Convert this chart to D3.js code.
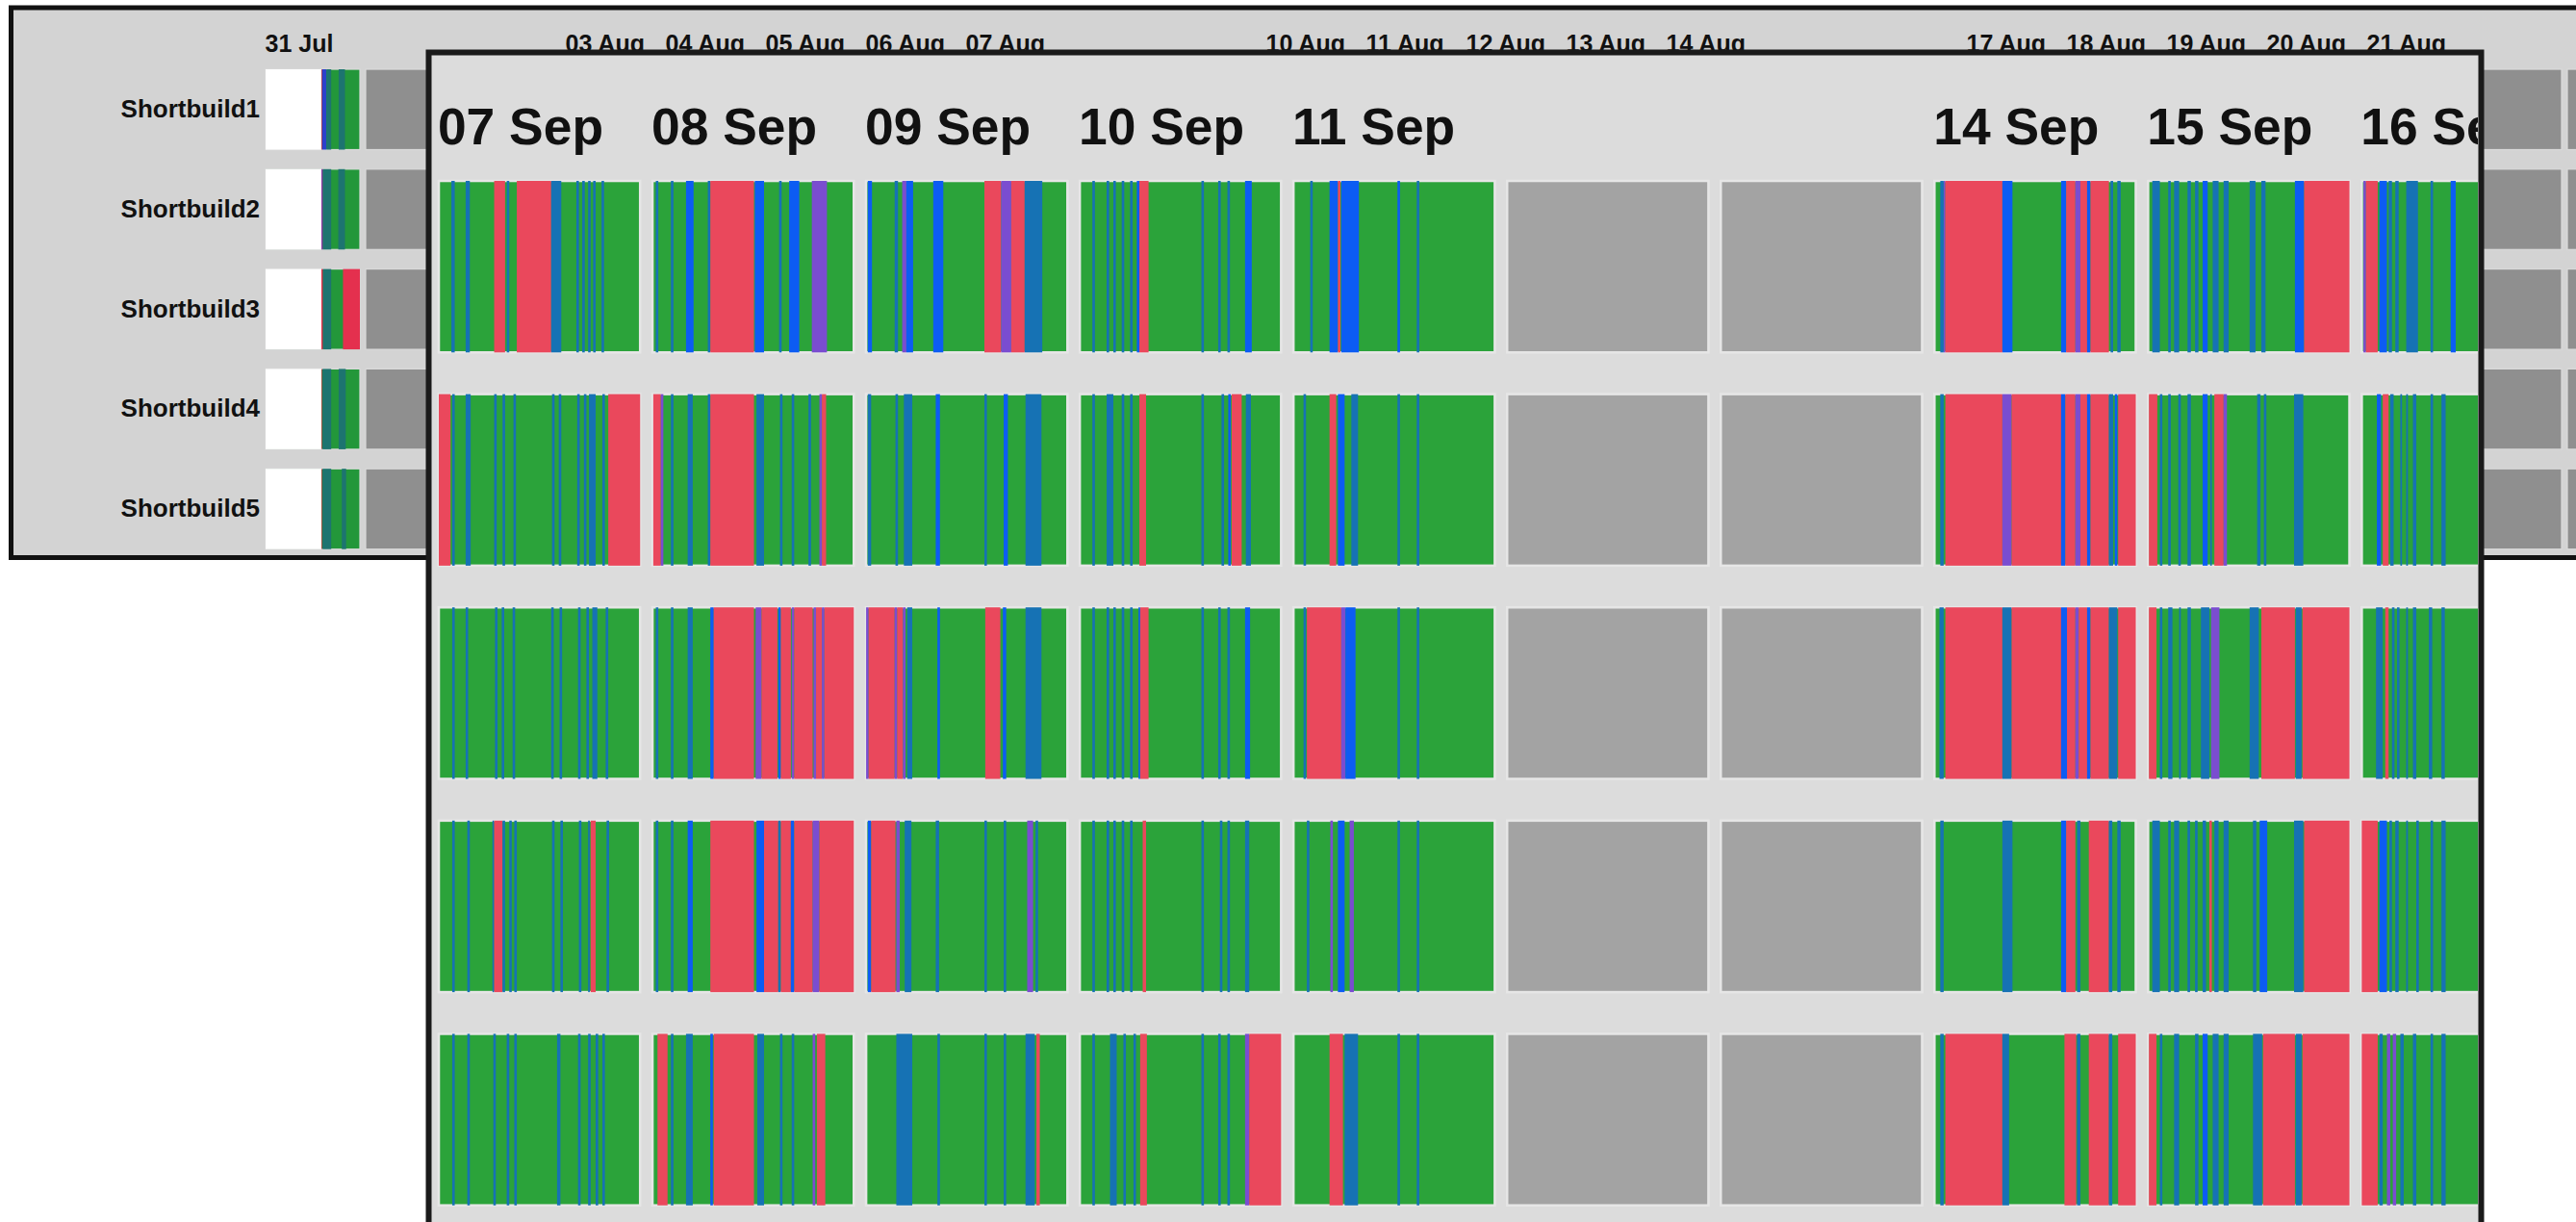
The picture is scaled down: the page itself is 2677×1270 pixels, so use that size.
<!DOCTYPE html>
<html>
<head>
<meta charset="utf-8">
<script src="https://d3js.org/d3.v7.min.js"></script>
<style>
  body { margin: 0; background: #fff; }
  svg { display: block; }
</style>
</head>
<body>
<div id="chart"></div>
<script>
// rows of the build board
var rows = ["Shortbuild1", "Shortbuild2", "Shortbuild3", "Shortbuild4", "Shortbuild5"];

// days in the overview strip (back) and in the zoomed inset (front)
var overviewDays = ["2020-07-31", "2020-08-01", "2020-08-02", "2020-08-03", "2020-08-04", "2020-08-05",
  "2020-08-06", "2020-08-07", "2020-08-08", "2020-08-09", "2020-08-10", "2020-08-11", "2020-08-12",
  "2020-08-13", "2020-08-14", "2020-08-15", "2020-08-16", "2020-08-17", "2020-08-18", "2020-08-19",
  "2020-08-20", "2020-08-21", "2020-08-22", "2020-08-23"];
var insetDays = ["2020-09-07", "2020-09-08", "2020-09-09", "2020-09-10", "2020-09-11",
  "2020-09-12", "2020-09-13", "2020-09-14", "2020-09-15", "2020-09-16"];

// build runs inside one day: [from hour, to hour, status]; the rest of a day with builds is a pass.
// W = not tracked yet, R = failed, B = running, S = unstable, P = aborted; null = no builds
var jul31 = [
  [[0, 14.2, "W"], [14.2, 14.4, "R"], [14.4, 15.5, "B"], [15.5, 16.7, "S"], [18.6, 20.2, "S"]],
  [[0, 14.2, "W"], [14.2, 14.6, "P"], [14.6, 16.7, "S"], [18.5, 20.2, "S"]],
  [[0, 14.2, "W"], [14.2, 14.6, "R"], [14.6, 16.7, "S"], [19.7, 24, "R"]],
  [[0, 14.2, "W"], [14.2, 14.35, "R"], [14.5, 16.7, "S"], [18.6, 20.4, "S"]],
  [[0, 14.2, "W"], [14.2, 14.35, "R"], [14.5, 16.7, "S"], [19.4, 20.5, "S"]]
];

var sepShortbuild1 = [
  [[1.5, 1.9, "S"], [3.2, 3.7, "S"], [6.6, 7.9, "R"], [8.1, 8.4, "S"], [9.3, 13.4, "R"], [13.4, 14.6, "S"],
   [16.4, 16.7, "S"], [17.1, 17.4, "S"], [17.8, 18.1, "S"], [18.4, 18.7, "S"], [19.4, 19.7, "S"]],
  [[0.4, 0.7, "S"], [2.2, 2.5, "S"], [4.0, 4.9, "B"], [6.6, 6.9, "S"], [6.9, 12.1, "R"], [12.2, 13.3, "B"],
   [15.1, 15.4, "S"], [16.3, 17.5, "B"], [19.0, 20.8, "P"]],
  [[0.2, 0.7, "B"], [3.4, 3.8, "S"], [4.3, 4.8, "P"], [4.8, 5.6, "B"], [8.0, 9.2, "B"], [14.1, 16.1, "R"],
   [16.1, 17.3, "P"], [17.3, 18.9, "R"], [18.9, 21.0, "S"]],
  [[1.5, 1.8, "S"], [3.2, 3.5, "S"], [4.0, 4.3, "S"], [5.0, 5.3, "S"], [6.0, 6.3, "S"], [6.8, 7.1, "B"],
   [7.1, 8.2, "R"], [14.5, 14.8, "S"], [16.5, 16.8, "S"], [17.6, 17.9, "S"], [19.7, 20.5, "B"]],
  [[2.0, 2.3, "S"], [4.3, 5.3, "B"], [5.3, 5.6, "R"], [5.7, 7.8, "B"], [12.4, 12.7, "B"], [14.7, 15.0, "S"]],
  null,
  null,
  [[0.7, 1.1, "S"], [1.1, 1.3, "P"], [1.3, 8.1, "R"], [8.1, 9.3, "B"], [15.1, 15.7, "B"], [15.7, 16.8, "R"],
   [16.8, 17.4, "P"], [17.4, 18.2, "R"], [18.2, 18.6, "B"], [18.6, 20.8, "R"], [21.0, 21.3, "S"], [21.8, 22.2, "S"]],
  [[0.5, 1.4, "S"], [2.4, 2.7, "S"], [3.1, 3.7, "S"], [4.7, 5.1, "S"], [5.6, 6.0, "S"], [6.5, 7.1, "B"],
   [7.7, 8.4, "S"], [9.0, 9.6, "S"], [12.1, 12.8, "S"], [13.5, 14.0, "S"], [17.5, 18.6, "B"], [18.6, 24, "R"]],
  [[0.2, 0.5, "P"], [0.5, 1.9, "R"], [2.1, 3.0, "B"], [3.2, 3.6, "S"], [4.0, 4.4, "S"], [5.3, 6.7, "S"],
   [8.2, 8.5, "S"], [10.6, 11.2, "B"]]
];

var sepShortbuild2 = [
  [[0, 1.4, "R"], [1.6, 1.9, "S"], [3.2, 3.8, "S"], [6.6, 6.9, "S"], [7.6, 7.9, "S"], [8.9, 9.2, "S"],
   [13.5, 13.8, "S"], [14.3, 14.6, "S"], [16.5, 16.8, "S"], [17.3, 17.6, "S"], [17.9, 18.7, "S"],
   [19.5, 19.8, "S"], [20.2, 24, "R"]],
  [[0.1, 1.0, "R"], [1.0, 1.3, "P"], [2.2, 2.5, "S"], [4.2, 4.8, "S"], [6.6, 6.9, "S"], [6.9, 12.1, "R"],
   [12.4, 13.3, "S"], [15.2, 15.5, "S"], [16.6, 16.9, "S"], [18.6, 18.9, "S"], [19.9, 20.2, "P"], [20.2, 20.7, "R"]],
  [[0.2, 0.6, "S"], [3.5, 3.8, "S"], [4.5, 5.5, "S"], [8.3, 8.8, "B"], [14.1, 14.4, "S"], [16.4, 16.9, "B"],
   [19.0, 20.9, "S"]],
  [[1.5, 1.8, "S"], [3.2, 4.0, "S"], [5.0, 5.3, "S"], [6.0, 6.3, "S"], [7.1, 7.9, "R"], [14.5, 14.8, "S"],
   [16.9, 17.2, "S"], [17.7, 18.0, "B"], [18.1, 19.3, "R"], [19.8, 20.4, "S"]],
  [[1.2, 1.5, "S"], [4.3, 5.1, "R"], [5.3, 6.1, "B"], [6.9, 7.7, "S"], [12.4, 12.7, "S"], [14.7, 15.0, "S"]],
  null,
  null,
  [[0.7, 1.1, "S"], [1.3, 8.1, "R"], [8.1, 9.2, "P"], [9.2, 15.1, "R"], [15.1, 15.6, "B"], [15.6, 16.8, "R"],
   [16.8, 17.4, "P"], [17.4, 18.2, "R"], [18.2, 18.6, "B"], [18.6, 20.8, "R"], [20.8, 21.3, "S"],
   [21.5, 21.8, "B"], [21.9, 24, "R"]],
  [[0.1, 1.1, "R"], [1.4, 1.7, "S"], [2.4, 2.7, "S"], [3.6, 3.9, "S"], [4.7, 5.1, "S"], [6.5, 7.1, "B"],
   [7.4, 7.6, "S"], [7.9, 9.0, "R"], [9.0, 9.4, "P"], [13.0, 13.4, "S"], [13.8, 14.1, "S"], [17.4, 18.5, "S"]],
  [[1.8, 2.3, "B"], [2.5, 3.2, "R"], [3.4, 3.8, "S"], [4.6, 4.8, "S"], [5.3, 5.5, "S"], [6.1, 6.5, "S"],
   [8.2, 8.5, "S"], [9.5, 10.0, "S"]]
];

var sepShortbuild3 = [
  [[1.6, 1.9, "S"], [3.2, 3.5, "S"], [6.7, 7.0, "S"], [7.5, 7.8, "S"], [8.8, 9.1, "S"], [13.4, 13.7, "S"],
   [14.4, 14.7, "S"], [16.6, 16.9, "S"], [17.6, 17.9, "S"], [18.3, 18.9, "S"], [19.9, 20.2, "S"]],
  [[0.4, 0.7, "S"], [2.2, 2.5, "S"], [4.2, 4.8, "S"], [6.9, 7.3, "B"], [7.3, 12.1, "R"], [12.3, 13.0, "P"],
   [13.0, 14.9, "R"], [15.0, 15.3, "B"], [15.3, 16.5, "R"], [16.6, 16.9, "P"], [16.9, 19.1, "R"],
   [19.2, 19.5, "P"], [19.5, 20.2, "R"], [20.2, 20.5, "P"], [20.5, 24, "R"]],
  [[0, 0.3, "P"], [0.3, 3.4, "R"], [3.4, 3.7, "P"], [3.7, 4.4, "R"], [4.4, 4.7, "P"], [4.9, 5.5, "S"],
   [8.5, 8.8, "B"], [14.2, 16.0, "R"], [16.3, 16.7, "B"], [19.0, 20.9, "S"]],
  [[1.5, 1.8, "S"], [3.2, 3.5, "S"], [4.0, 4.3, "S"], [5.0, 5.3, "S"], [6.0, 6.3, "S"], [7.0, 7.2, "B"],
   [7.2, 8.2, "R"], [14.5, 14.8, "S"], [16.5, 16.8, "S"], [17.6, 17.9, "S"], [19.7, 20.3, "B"]],
  [[1.2, 1.5, "S"], [1.6, 5.7, "R"], [5.7, 6.2, "P"], [6.2, 7.4, "B"], [12.4, 12.7, "S"], [14.7, 15.0, "S"]],
  null,
  null,
  [[0.6, 1.1, "S"], [1.3, 8.1, "R"], [8.1, 9.2, "S"], [9.2, 15.1, "R"], [15.1, 15.8, "B"], [15.8, 16.8, "R"],
   [16.8, 17.2, "P"], [17.2, 18.2, "R"], [18.2, 18.6, "B"], [18.6, 20.8, "R"], [20.8, 21.8, "S"], [21.9, 24, "R"]],
  [[0.1, 1.0, "R"], [1.4, 1.7, "S"], [2.4, 2.9, "S"], [3.7, 3.9, "S"], [4.7, 5.1, "S"], [6.3, 7.3, "S"],
   [7.5, 8.5, "P"], [12.1, 13.2, "S"], [13.5, 17.5, "R"], [17.6, 18.3, "S"], [18.4, 24, "R"]],
  [[1.7, 2.5, "S"], [2.8, 3.2, "R"], [3.6, 3.9, "S"], [4.2, 4.5, "S"], [5.3, 5.5, "S"], [6.1, 6.5, "S"],
   [8.0, 8.4, "S"], [9.5, 9.9, "S"]]
];

var sepShortbuild4 = [
  [[1.6, 1.9, "S"], [3.4, 3.7, "S"], [6.4, 6.6, "S"], [6.6, 7.6, "R"], [7.6, 7.9, "S"], [8.4, 8.7, "S"],
   [9.0, 9.3, "S"], [13.5, 13.8, "S"], [14.5, 14.8, "S"], [16.7, 17.0, "S"], [17.8, 18.0, "S"],
   [18.1, 18.7, "R"], [20.0, 20.3, "S"]],
  [[0.4, 0.7, "S"], [2.2, 2.5, "S"], [4.2, 4.8, "B"], [6.9, 12.1, "R"], [12.4, 13.3, "B"], [13.3, 15.0, "R"],
   [15.0, 15.3, "S"], [15.3, 16.5, "R"], [16.5, 16.9, "B"], [16.9, 19.1, "R"], [19.1, 19.9, "P"], [19.9, 24, "R"]],
  [[0.2, 0.6, "B"], [0.6, 3.5, "R"], [3.6, 4.0, "P"], [4.6, 5.4, "S"], [8.3, 8.7, "S"], [14.1, 14.4, "S"],
   [16.4, 16.7, "S"], [19.2, 19.9, "P"], [20.2, 20.5, "S"]],
  [[1.5, 1.8, "S"], [3.2, 3.5, "S"], [4.0, 4.3, "S"], [5.0, 5.3, "S"], [6.0, 6.3, "S"], [7.5, 7.9, "R"],
   [14.5, 14.8, "S"], [16.7, 17.0, "S"], [17.6, 17.9, "S"], [19.7, 20.2, "S"]],
  [[1.6, 1.9, "S"], [4.4, 4.7, "P"], [5.3, 6.1, "B"], [6.7, 7.2, "P"], [12.4, 12.7, "S"], [14.7, 15.0, "S"]],
  null,
  null,
  [[0.7, 1.1, "S"], [8.1, 9.3, "S"], [15.1, 15.7, "B"], [15.7, 16.8, "R"], [17.0, 17.4, "S"], [18.4, 20.8, "R"],
   [20.8, 21.2, "S"], [21.8, 22.2, "S"]],
  [[0.5, 1.4, "S"], [2.4, 2.7, "S"], [3.1, 3.7, "S"], [4.7, 5.0, "S"], [5.6, 5.9, "S"], [6.5, 6.9, "S"],
   [7.3, 7.6, "R"], [7.9, 8.4, "S"], [9.0, 9.6, "S"], [12.5, 12.9, "S"], [13.3, 14.2, "B"], [17.4, 18.5, "S"],
   [18.6, 24, "R"]],
  [[0, 1.9, "R"], [2.1, 3.0, "B"], [3.3, 3.6, "S"], [4.0, 4.4, "S"], [5.3, 5.5, "S"], [6.5, 6.8, "S"],
   [8.2, 8.5, "S"], [9.5, 10.0, "S"]]
];

var sepShortbuild5 = [
  [[1.6, 1.9, "S"], [3.4, 3.7, "S"], [6.5, 6.8, "S"], [8.1, 8.4, "S"], [9.0, 9.3, "S"], [14.1, 14.5, "S"],
   [16.6, 16.9, "S"], [17.8, 18.1, "S"], [18.7, 19.0, "S"], [19.5, 19.8, "S"]],
  [[0.6, 1.8, "R"], [2.2, 2.5, "S"], [4.0, 4.8, "S"], [6.9, 7.2, "B"], [7.3, 12.1, "R"], [12.5, 13.3, "S"],
   [15.2, 15.5, "S"], [16.6, 16.9, "S"], [19.1, 19.4, "P"], [19.6, 20.6, "R"]],
  [[3.6, 5.5, "S"], [8.5, 8.8, "S"], [14.1, 14.4, "S"], [16.4, 16.7, "S"], [19.0, 20.1, "S"], [20.3, 20.7, "R"]],
  [[1.5, 1.8, "S"], [3.6, 4.4, "S"], [5.2, 5.5, "S"], [6.4, 6.7, "S"], [7.2, 8.0, "R"], [14.5, 14.8, "S"],
   [16.5, 16.8, "S"], [17.6, 17.9, "S"], [19.7, 20.2, "P"], [20.2, 24, "R"]],
  [[4.3, 5.9, "R"], [6.1, 7.7, "S"], [12.4, 12.7, "S"], [14.7, 15.0, "S"]],
  null,
  null,
  [[0.7, 1.1, "S"], [1.3, 8.1, "R"], [8.1, 8.9, "S"], [15.5, 16.9, "R"], [17.0, 17.4, "S"], [18.4, 20.8, "R"],
   [20.8, 21.2, "S"], [21.9, 24, "R"]],
  [[0.1, 1.0, "R"], [1.4, 1.7, "S"], [3.1, 3.7, "S"], [5.6, 6.0, "S"], [6.5, 7.1, "B"], [7.7, 8.4, "S"],
   [9.0, 9.6, "S"], [12.5, 13.6, "S"], [13.7, 17.5, "R"], [17.6, 18.3, "S"], [18.4, 24, "R"]],
  [[0, 1.9, "R"], [2.1, 2.5, "S"], [3.0, 3.4, "P"], [3.7, 4.1, "P"], [4.6, 5.0, "S"], [6.1, 6.5, "S"],
   [8.2, 8.5, "S"], [9.5, 10.0, "S"]]
];

(function(){

  var W = 2677, H = 1270;
  // board geometry in overview pixels; the inset is the same board blown up
  var dayStep = 104, cellW = 98, rowStep = 103.8, cellH = 83.5;
  var zoom = 2.135;

  var overviewPal = {G: "#23973a", R: "#e4304e", B: "#2b41cc", S: "#1d7470", P: "#8b3aa6", W: "#ffffff",
                     none: "#8f8f8f", halo: "#dadada", text: "#111"};
  var insetPal = {G: "#2ba33a", R: "#ea485c", B: "#0c5cf3", S: "#1672b4", P: "#7a4dd0", W: "#ffffff",
                  none: "#a3a3a3", halo: "#e6e6e6", text: "#111"};

  var svg = d3.select("#chart").append("svg")
      .attr("width", W).attr("height", H);

  var defs = svg.append("defs");
  defs.append("clipPath").attr("id", "insetClip")
    .append("rect").attr("x", 449).attr("y", 57.5).attr("width", 2126).attr("height", H);

  function drawBoard(g, days, runs, pal, showRowNames) {
    var dates = days.map(d3.utcParse("%Y-%m-%d"));
    var x = d3.scaleUtc()
        .domain([dates[0], d3.utcDay.offset(dates[dates.length - 1], 1)])
        .range([0, dates.length * dayStep]);
    var y = d3.scaleBand().domain(rows)
        .range([0, rows.length * rowStep - (rowStep - cellH)])
        .paddingInner((rowStep - cellH) / rowStep);
    var hour = d3.scaleLinear().domain([0, 24]).range([0, cellW]);
    var workdays = dates.filter(function(d){ return d.getUTCDay() % 6 !== 0; });

    var cells = [];
    rows.forEach(function(r, i){
      dates.forEach(function(d, j){ cells.push({row: r, date: d, runs: runs[i][j]}); });
    });

    var cell = g.selectAll("g.cell").data(cells).join("g").attr("class", "cell")
        .attr("transform", function(d){ return "translate(" + x(d.date) + "," + y(d.row) + ")"; });
    cell.append("rect")
        .attr("width", cellW).attr("height", y.bandwidth())
        .attr("fill", function(d){ return d.runs ? pal.G : pal.none; })
        .attr("stroke", pal.halo).attr("stroke-width", 1.2);
    cell.selectAll("rect.run").data(function(d){ return d.runs || []; }).join("rect")
        .attr("class", "run")
        .attr("x", function(r){ return hour(r[0]); })
        .attr("width", function(r){ return hour(r[1]) - hour(r[0]); })
        .attr("height", y.bandwidth())
        .attr("fill", function(r){ return pal[r[2]]; });

    var top = g.append("g")
        .call(d3.axisTop(x).tickValues(workdays).tickFormat(d3.utcFormat("%d %b"))
              .tickSize(0).tickPadding(18));
    top.select(".domain").remove();
    top.attr("font-size", 25).attr("font-family", "'Liberation Sans', Arial, sans-serif")
       .attr("font-weight", "bold");
    top.selectAll("text").attr("text-anchor", "start").attr("dx", -1).attr("fill", pal.text);

    // row names sit left of the first day; inside the inset they fall outside the view
    if (showRowNames) {
      var left = g.append("g")
          .call(d3.axisLeft(y).tickSize(0).tickPadding(6));
      left.select(".domain").remove();
      left.attr("font-size", 26).attr("font-family", "'Liberation Sans', Arial, sans-serif")
          .attr("font-weight", "bold");
      left.selectAll("text").attr("fill", pal.text);
    }
  }

  // overview strip at the back
  svg.append("rect")
      .attr("x", 11.5).attr("y", 8).attr("width", W + 20).attr("height", 571.5)
      .attr("fill", "#d3d3d3").attr("stroke", "#111").attr("stroke-width", 5);
  var overviewRuns = rows.map(function(r, i){
    return overviewDays.map(function(d){ return d === "2020-07-31" ? jul31[i] : null; });
  });
  drawBoard(svg.append("g").attr("transform", "translate(276,72)"), overviewDays, overviewRuns, overviewPal, true);

  // zoomed inset in front
  svg.append("rect")
      .attr("x", 445.5).attr("y", 54.5).attr("width", 2133).attr("height", H)
      .attr("fill", "#dcdcdc").attr("stroke", "#1a1a1a").attr("stroke-width", 6);
  var insetRuns = [sepShortbuild1, sepShortbuild2, sepShortbuild3, sepShortbuild4, sepShortbuild5];
  var inset = svg.append("g").attr("clip-path", "url(#insetClip)")
    .append("g").attr("transform", "translate(456,188) scale(" + zoom + ")");
  drawBoard(inset, insetDays, insetRuns, insetPal, false);

})();
</script>
</body>
</html>
